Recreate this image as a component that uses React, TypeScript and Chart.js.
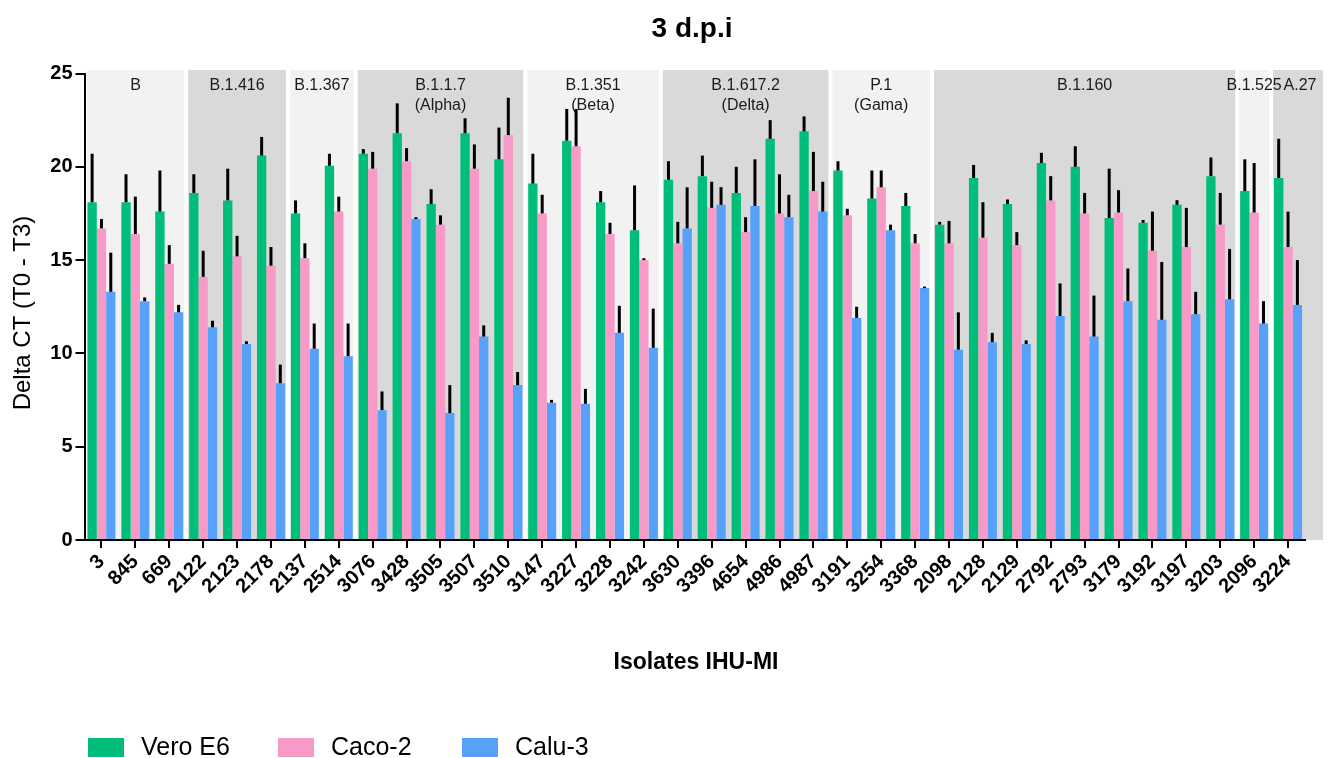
import { useEffect, useRef } from 'react';
import { Chart, registerables } from 'chart.js';

Chart.register(...registerables);

const FONT = "'Liberation Sans', Arial, sans-serif";

const isolates = ['3', '845', '669', '2122', '2123', '2178', '2137', '2514', '3076', '3428', '3505', '3507', '3510', '3147', '3227', '3228', '3242', '3630', '3396', '4654', '4986', '4987', '3191', '3254', '3368', '2098', '2128', '2129', '2792', '2793', '3179', '3192', '3197', '3203', '2096', '3224'];

const veroE6 = [18.1, 18.1, 17.6, 18.6, 18.2, 20.6, 17.5, 20.05, 20.7, 21.8, 18.0, 21.8, 20.4, 19.1, 21.4, 18.1, 16.6, 19.3, 19.5, 18.6, 21.5, 21.9, 19.8, 18.3, 17.9, 16.9, 19.4, 18.0, 20.2, 20.0, 17.25, 17.0, 17.96, 19.5, 18.7, 19.4];
const veroE6Sd = [2.6, 1.5, 2.2, 1.0, 1.7, 1.0, 0.7, 0.65, 0.25, 1.6, 0.8, 0.8, 1.7, 1.6, 1.7, 0.6, 2.4, 1.0, 1.1, 1.4, 1.0, 0.8, 0.5, 1.5, 0.7, 0.15, 0.7, 0.25, 0.55, 1.1, 2.65, 0.15, 0.25, 1.0, 1.7, 2.1];

const caco2 = [16.7, 16.4, 14.8, 14.1, 15.2, 14.7, 15.1, 17.6, 19.9, 20.3, 16.9, 19.9, 21.7, 17.5, 21.1, 16.4, 15.0, 15.9, 17.8, 16.5, 17.5, 18.7, 17.4, 18.9, 15.9, 15.9, 16.2, 15.8, 18.2, 17.5, 17.55, 15.5, 15.7, 16.9, 17.55, 15.7];
const caco2Sd = [0.5, 2.0, 1.0, 1.4, 1.1, 1.0, 0.8, 0.8, 0.9, 0.7, 0.5, 1.3, 2.0, 1.0, 2.0, 0.6, 0.1, 1.15, 1.4, 0.8, 2.1, 2.1, 0.35, 0.9, 0.5, 1.2, 1.9, 0.7, 1.3, 1.1, 1.2, 2.1, 2.1, 1.7, 2.65, 1.9];

const calu3 = [13.3, 12.8, 12.2, 11.4, 10.5, 8.4, 10.25, 9.85, 6.96, 17.2, 6.8, 10.9, 8.3, 7.36, 7.3, 11.1, 10.3, 16.7, 17.96, 17.9, 17.3, 17.6, 11.9, 16.6, 13.5, 10.2, 10.6, 10.5, 12.0, 10.9, 12.8, 11.8, 12.1, 12.9, 11.6, 12.6];
const calu3Sd = [2.1, 0.2, 0.4, 0.35, 0.15, 1.0, 1.35, 1.75, 1.0, 0.1, 1.5, 0.6, 0.7, 0.15, 0.8, 1.45, 2.1, 2.2, 0.95, 2.5, 1.2, 1.6, 0.6, 0.3, 0.05, 2.0, 0.5, 0.2, 1.75, 2.2, 1.75, 3.1, 1.2, 2.7, 1.2, 2.4];

const variantNames = ['B', 'B.1.416', 'B.1.367', 'B.1.1.7', 'B.1.351', 'B.1.617.2', 'P.1', 'B.1.160', 'B.1.525', 'A.27'];
const variantSubs = ['', '', '', '(Alpha)', '(Beta)', '(Delta)', '(Gama)', '', '', ''];
const variantCounts = [3, 3, 2, 5, 4, 5, 3, 9, 1, 1];

const seriesNames = ['Vero E6', 'Caco-2', 'Calu-3'];
const seriesColors = ['#00BE7A', '#F89AC7', '#56A1FA'];
const errors = [veroE6Sd, caco2Sd, calu3Sd];

const yMin = 0;
const yMax = 25;
const yStep = 5;

const chartTitle = '3 d.p.i';
const xTitle = 'Isolates IHU-MI';
const yTitle = 'Delta CT (T0 - T3)';

const decorPlugin = {
  id: 'decor',
  beforeDraw(chart: any) {
    const { ctx, chartArea, scales } = chart;
    const x = scales.x;
    ctx.save();
    ctx.fillStyle = '#ffffff';
    ctx.fillRect(0, 0, chart.width, chart.height);
    const pitch = (chartArea.right - chartArea.left) / isolates.length;
    const top = chartArea.top - 3.5;
    const centers: number[] = [];
    let start = 0;
    variantCounts.forEach((n, k) => {
      const c0 = x.getPixelForValue(start);
      const c1 = x.getPixelForValue(start + n - 1);
      let l = c0 - pitch / 2 + 2;
      let r = c1 + pitch / 2 - 2;
      if (k === 0) l = chartArea.left + 2.5;
      if (k === variantCounts.length - 1) r = chartArea.right + 22;
      ctx.fillStyle = k % 2 === 0 ? '#f2f2f2' : '#d9d9d9';
      ctx.fillRect(l, top, r - l, chartArea.bottom - top);
      centers.push((l + r) / 2);
      start += n;
    });
    ctx.fillStyle = '#1a1a1a';
    ctx.font = `16px ${FONT}`;
    ctx.textAlign = 'center';
    ctx.textBaseline = 'middle';
    variantNames.forEach((name, k) => {
      ctx.fillText(name, centers[k], chartArea.top + 12.5);
      if (variantSubs[k]) ctx.fillText(variantSubs[k], centers[k], chartArea.top + 32.5);
    });
    ctx.restore();
  },
  afterDatasetsDraw(chart: any) {
    const { ctx, scales } = chart;
    const y = scales.y;
    ctx.save();
    ctx.strokeStyle = '#000000';
    ctx.lineWidth = 3;
    ctx.lineCap = 'butt';
    chart.data.datasets.forEach((ds: any, i: number) => {
      const meta = chart.getDatasetMeta(i);
      const sd = errors[i];
      meta.data.forEach((bar: any, j: number) => {
        const v = ds.data[j];
        const y0 = y.getPixelForValue(v);
        const y1 = y.getPixelForValue(v + sd[j]);
        ctx.beginPath();
        ctx.moveTo(bar.x, y0);
        ctx.lineTo(bar.x, Math.min(y1, y0 - 1.5));
        ctx.stroke();
      });
    });
    ctx.restore();
  },
  afterDraw(chart: any) {
    const { ctx } = chart;
    ctx.save();
    ctx.fillStyle = '#000000';
    ctx.textAlign = 'center';
    ctx.textBaseline = 'middle';
    ctx.font = `bold 28px ${FONT}`;
    ctx.fillText(chartTitle, 684, 21);
    ctx.font = `bold 23px ${FONT}`;
    ctx.fillText(xTitle, 688, 655);
    ctx.save();
    ctx.translate(15, 305);
    ctx.rotate(-Math.PI / 2);
    ctx.font = `24px ${FONT}`;
    ctx.fillText(yTitle, 0, 0);
    ctx.restore();
    const boxX = [80, 270, 454];
    ctx.font = `25px ${FONT}`;
    ctx.textAlign = 'left';
    seriesNames.forEach((name, i) => {
      ctx.fillStyle = seriesColors[i];
      ctx.fillRect(boxX[i], 730, 36, 19);
      ctx.fillStyle = '#000000';
      ctx.fillText(name, boxX[i] + 53, 740);
    });
    ctx.restore();
  },
};

export default function App() {
  const ref = useRef<HTMLCanvasElement | null>(null);
  useEffect(() => {
    document.body.style.overflow = 'hidden';
    const canvas = ref.current;
    if (!canvas) return;
    const datasets = [veroE6, caco2, calu3].map((d, i) => ({
      label: seriesNames[i],
      data: d,
      backgroundColor: seriesColors[i],
      borderWidth: 0,
      barPercentage: 1,
      categoryPercentage: 0.826,
    }));
    const chart = new Chart(canvas, {
      type: 'bar',
      data: { labels: isolates, datasets },
      options: {
        animation: false,
        responsive: false,
        layout: { padding: { left: 0, right: 26, top: 65.5, bottom: 118 } },
        plugins: {
          legend: { display: false },
          title: { display: false },
          tooltip: { enabled: false },
        },
        scales: {
          x: {
            afterFit: (s: any) => { s.height = 100; },
            grid: { offset: false, drawOnChartArea: false, drawTicks: true, tickLength: 8, color: '#000', lineWidth: 2 },
            border: { display: true, color: '#000', width: 2 },
            ticks: {
              autoSkip: false,
              maxRotation: 45,
              minRotation: 45,
              padding: 2,
              color: '#000',
              font: { family: FONT, size: 20, weight: 'bold' },
            },
          },
          y: {
            min: yMin,
            max: yMax,
            afterFit: (s: any) => { s.width = 76.5; },
            grid: { drawOnChartArea: false, drawTicks: true, tickLength: 9, color: '#000', lineWidth: 2 },
            border: { display: true, color: '#000', width: 2 },
            ticks: {
              stepSize: yStep,
              padding: 3,
              color: '#000',
              font: { family: FONT, size: 20, weight: 'bold' },
            },
          },
        },
      },
      plugins: [decorPlugin],
    } as any);
    return () => chart.destroy();
  }, []);
  return <canvas ref={ref} width={1323} height={750} style={{ display: 'block' }} />;
}
